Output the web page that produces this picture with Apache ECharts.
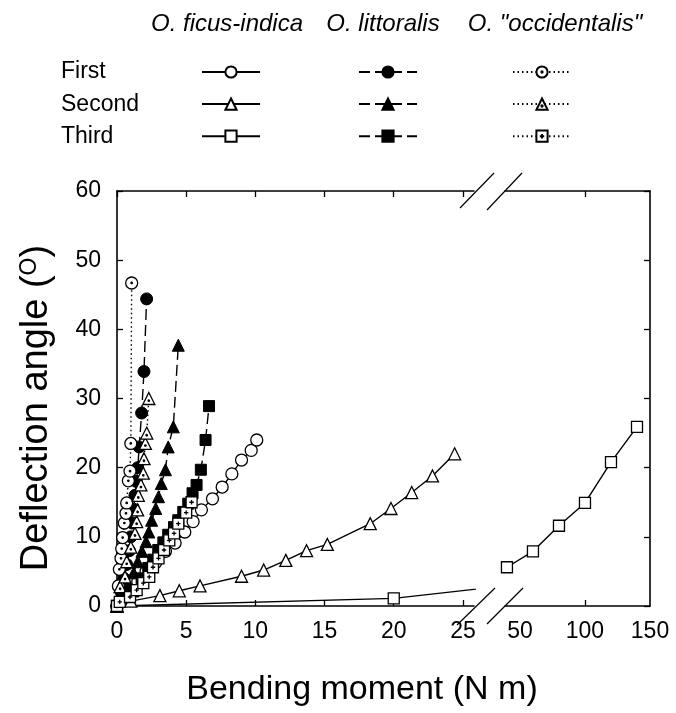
<!DOCTYPE html>
<html>
<head>
<meta charset="utf-8">
<script src="https://cdn.jsdelivr.net/npm/echarts@6/dist/echarts.min.js"></script>
<style>
  html, body { margin: 0; padding: 0; background: #fff; }
  #chart { width: 676px; height: 713px; }
</style>
</head>
<body>
<div id="chart"></div>
<script>
// data: [bending moment (N m), deflection angle (deg)]
const ficusFirst = [[0, 0], [0.5, 1.2], [1.0, 2.3], [1.5, 3.5], [2.1, 5.0], [2.8, 6.3], [3.5, 7.9], [4.2, 9.1],
  [4.9, 10.7], [5.5, 12.2], [6.1, 13.9], [6.9, 15.5], [7.6, 17.2], [8.3, 19.1], [9.0, 21.1], [9.7, 22.5], [10.1, 24.0]];
const ficusSecond = [[0, 0], [1.0, 0.7], [3.1, 1.5], [4.5, 2.2], [6.0, 2.9], [9.0, 4.3], [10.6, 5.2], [12.2, 6.6],
  [13.7, 8.0], [15.2, 8.9], [18.3, 11.9], [19.8, 14.1], [21.3, 16.4], [22.8, 18.8], [24.4, 22.0]];
const ficusThird = [[0, 0], [20, 1.1], [40, 5.6], [60, 7.9], [80, 11.6], [100, 14.9], [120, 20.8], [140, 25.9]];
const littFirst = [[0, 0], [0.3, 2], [0.5, 4], [0.7, 6], [0.9, 8], [1.0, 10], [1.1, 12], [1.2, 14], [1.3, 16],
  [1.4, 18], [1.5, 20], [1.6, 23.0], [1.78, 27.9], [1.95, 33.9], [2.14, 44.4]];
const littSecond = [[0, 0], [0.4, 1.5], [0.8, 3.2], [1.2, 4.8], [1.5, 6.4], [1.8, 7.9], [2.1, 9.3], [2.3, 10.7],
  [2.5, 12.4], [2.8, 14.1], [3.0, 15.8], [3.2, 17.7], [3.5, 19.7], [3.7, 23.0], [4.07, 25.9], [4.43, 37.7]];
const littThird = [[0, 0], [1.18, 2.1], [1.78, 4.0], [2.26, 5.5], [2.62, 6.7], [2.98, 8.1], [3.35, 9.2], [3.7, 10.3],
  [4.12, 11.4], [4.43, 12.4], [4.79, 13.6], [5.15, 14.8], [5.46, 16.3], [5.75, 17.5], [6.06, 19.7], [6.4, 24.0], [6.65, 28.9]];
const occFirst = [[0, 0], [0.1, 2.9], [0.17, 5.3], [0.29, 6.9], [0.34, 8.3], [0.41, 9.9], [0.53, 12.0], [0.65, 13.4],
  [0.7, 14.9], [0.82, 18.1], [0.94, 19.5], [1.0, 23.5], [1.06, 46.7]];
const occSecond = [[0, 0], [0.22, 2.8], [0.58, 4.2], [0.7, 6.4], [1.0, 8.5], [1.3, 10.5], [1.42, 12.2], [1.49, 13.9],
  [1.54, 16.0], [1.73, 17.5], [1.9, 19.2], [1.95, 21.3], [2.05, 23.5], [2.15, 25.0], [2.3, 30.0]];
const occThird = [[0, 0], [0.2, 0.6], [0.94, 1.3], [1.42, 2.3], [1.9, 3.3], [2.33, 4.2], [2.6, 5.6], [3.0, 6.9],
  [3.4, 8.1], [3.78, 9.5], [4.12, 10.5], [4.43, 11.9], [5.0, 13.5], [5.39, 15.0]];

const leftTicks = [0, 5, 10, 15, 20, 25];
const rightLabels = [50, 100, 150];
const rightTicks = [100];

const FONT = '"Liberation Sans", Arial, Helvetica, sans-serif';

const dotCircle = 'path://M0,-10A10,10,0,1,1,0,10A10,10,0,1,1,0,-10ZM0,-1.2A1.2,1.2,0,1,1,0,1.2A1.2,1.2,0,1,1,0,-1.2Z';
const dotTriangle = 'path://M0,-10L10,8L-10,8ZM0,1A1.2,1.2,0,1,1,0,3.4A1.2,1.2,0,1,1,0,1Z';
const dotSquare = 'path://M-10,-10L10,-10L10,10L-10,10ZM-4,0L4,0M0,-4L0,4';

const hollow = { color: '#fff', borderColor: '#000', borderWidth: 1.3 };
const solid = { color: '#000', borderColor: '#000', borderWidth: 1 };

function mk(name, data, symbol, size, itemStyle, dash, xi, yi) {
  return {
    name: name, type: 'line', data: data, symbol: symbol, symbolSize: size,
    xAxisIndex: xi || 0, yAxisIndex: yi || 0,
    itemStyle: itemStyle,
    lineStyle: { color: '#000', width: 1.4, type: dash },
    emphasis: { disabled: true }, clip: true
  };
}

const chart = echarts.init(document.getElementById('chart'));

const axisLine = { show: true, lineStyle: { color: '#000', width: 1.6 } };
const tickIn = { show: true, inside: true, length: 6, lineStyle: { color: '#000', width: 1.3 } };
const labelStyle = { color: '#000', fontSize: 23, fontFamily: FONT };

chart.setOption({
  animation: false,
  backgroundColor: '#fff',
  grid: [
    { left: 117, top: 191, width: 357, height: 415 },
    { left: 505, top: 191, width: 145, height: 415 }
  ],
  xAxis: [
    { gridIndex: 0, type: 'value', position: 'bottom', min: 0, max: 25.8, axisLine: axisLine,
      axisTick: Object.assign({}, tickIn, { customValues: leftTicks }),
      axisLabel: Object.assign({ customValues: leftTicks, margin: 14 }, labelStyle),
      splitLine: { show: false } },
    { gridIndex: 0, type: 'value', position: 'top', min: 0, max: 25.8, axisLine: axisLine,
      axisTick: Object.assign({}, tickIn, { customValues: leftTicks }),
      axisLabel: { show: false }, splitLine: { show: false } },
    { gridIndex: 1, type: 'value', position: 'bottom', min: 38.5, max: 150, axisLine: axisLine,
      axisTick: Object.assign({}, tickIn, { customValues: rightTicks }),
      axisLabel: Object.assign({ customValues: rightLabels, margin: 14 }, labelStyle),
      splitLine: { show: false } },
    { gridIndex: 1, type: 'value', position: 'top', min: 38.5, max: 150, axisLine: axisLine,
      axisTick: Object.assign({}, tickIn, { customValues: rightTicks }),
      axisLabel: { show: false }, splitLine: { show: false } }
  ],
  yAxis: [
    { gridIndex: 0, type: 'value', position: 'left', min: 0, max: 60, interval: 10, axisLine: axisLine,
      axisTick: tickIn,
      axisLabel: Object.assign({ margin: 16 }, labelStyle),
      splitLine: { show: false } },
    { gridIndex: 1, type: 'value', position: 'right', min: 0, max: 60, interval: 10, axisLine: axisLine,
      axisTick: tickIn, axisLabel: { show: false }, splitLine: { show: false } }
  ],
  legend: [
    { data: ['ficus First', 'ficus Second', 'ficus Third'], left: 201 },
    { data: ['litt First', 'litt Second', 'litt Third'], left: 358 },
    { data: ['occ First', 'occ Second', 'occ Third'], left: 512 }
  ].map(function (l) {
    return Object.assign(l, {
      orient: 'vertical', top: 65, itemWidth: 58, itemHeight: 14, itemGap: 18.5, padding: 0,
      formatter: function () { return ''; }, selectedMode: false, textStyle: { fontSize: 1 }
    });
  }),
  graphic: [
    { type: 'text', x: 227, y: 24, style: { text: 'O. ficus-indica', font: 'italic 24px ' + FONT, fill: '#000', textAlign: 'center', textVerticalAlign: 'middle' } },
    { type: 'text', x: 383, y: 24, style: { text: 'O. littoralis', font: 'italic 24px ' + FONT, fill: '#000', textAlign: 'center', textVerticalAlign: 'middle' } },
    { type: 'text', x: 555, y: 24, style: { text: 'O. "occidentalis"', font: 'italic 24px ' + FONT, fill: '#000', textAlign: 'center', textVerticalAlign: 'middle' } },
    { type: 'text', x: 61, y: 72, style: { text: 'First', font: '23px ' + FONT, fill: '#000', textVerticalAlign: 'middle' } },
    { type: 'text', x: 61, y: 105, style: { text: 'Second', font: '23px ' + FONT, fill: '#000', textVerticalAlign: 'middle' } },
    { type: 'text', x: 61, y: 137, style: { text: 'Third', font: '23px ' + FONT, fill: '#000', textVerticalAlign: 'middle' } },
    { type: 'text', x: 362, y: 690, style: { text: 'Bending moment (N m)', font: '34px ' + FONT, fill: '#000', textAlign: 'center', textVerticalAlign: 'middle' } },
    { type: 'text', x: 37, y: 408, rotation: Math.PI / 2,
      style: { text: 'Deflection angle ({sup|O})', font: '38px ' + FONT, fill: '#000', textAlign: 'center', textVerticalAlign: 'middle',
        rich: { sup: { fontSize: 23, fontFamily: FONT, verticalAlign: 'top', fill: '#000' } } } },
    // axis break marks
    { type: 'line', shape: { x1: 457, y1: 625, x2: 495, y2: 588 }, style: { stroke: '#000', lineWidth: 1.2 } },
    { type: 'line', shape: { x1: 487, y1: 624, x2: 523, y2: 588 }, style: { stroke: '#000', lineWidth: 1.2 } },
    { type: 'line', shape: { x1: 460, y1: 208, x2: 494, y2: 173 }, style: { stroke: '#000', lineWidth: 1.2 } },
    { type: 'line', shape: { x1: 487, y1: 210, x2: 522, y2: 173 }, style: { stroke: '#000', lineWidth: 1.2 } }
  ],
  series: [
    mk('ficus First', ficusFirst, 'circle', 12, hollow, 'solid'),
    mk('ficus Second', ficusSecond, 'triangle', 12, hollow, 'solid'),
    mk('ficus Third', ficusThird, 'rect', 11, hollow, 'solid'),
    mk('ficus Third', ficusThird, 'rect', 11, hollow, 'solid', 2, 1),
    mk('litt First', littFirst, 'circle', 12, solid, [11, 5]),
    mk('litt Second', littSecond, 'triangle', 12, solid, [11, 5]),
    mk('litt Third', littThird, 'rect', 11, solid, [11, 5]),
    mk('occ First', occFirst, dotCircle, 12, hollow, [1.5, 3]),
    mk('occ Second', occSecond, dotTriangle, 12, hollow, [1.5, 3]),
    mk('occ Third', occThird, dotSquare, 11, hollow, [1.5, 3])
  ]
});
</script>
</body>
</html>
